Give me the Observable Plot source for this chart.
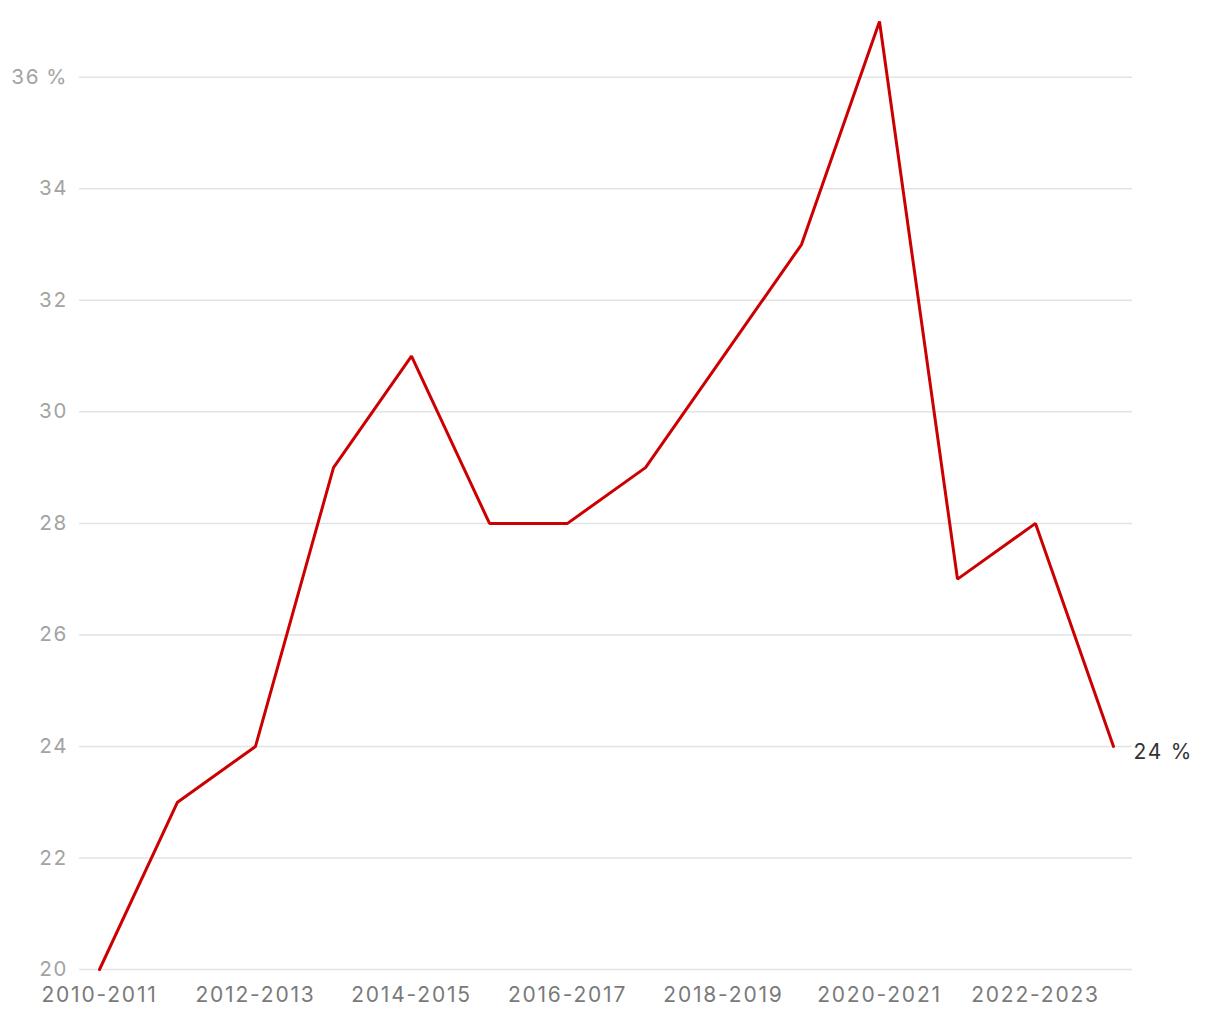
<!DOCTYPE html>
<html>
<head>
<meta charset="utf-8">
<script src="https://cdn.jsdelivr.net/npm/d3@7"></script>
<script src="https://cdn.jsdelivr.net/npm/@observablehq/plot@0.6"></script>
<style>
  html, body { margin: 0; padding: 0; background: #fff; }
  #chart svg { display: block; }
  #chart svg text { letter-spacing: 1.8px; }
  #chart svg g[aria-label="y-axis tick label"] text { letter-spacing: 1px; }
</style>
</head>
<body>
<div id="chart"></div>
<script>
const years = ["2010-2011","2011-2012","2012-2013","2013-2014","2014-2015","2015-2016","2016-2017","2017-2018","2018-2019","2019-2020","2020-2021","2021-2022","2022-2023","2023-2024"];
const values = [20, 23, 24, 29, 31, 28, 28, 29, 31, 33, 37, 27, 28, 24];
const yTicks = [20, 22, 24, 26, 28, 30, 32, 34, 36];
const xTicks = ["2010-2011","2012-2013","2014-2015","2016-2017","2018-2019","2020-2021","2022-2023"];

const data = years.map((y, i) => ({year: y, value: values[i]}));
const last = data[data.length - 1];

const chart = Plot.plot({
  width: 1220,
  height: 1020,
  marginLeft: 79,
  marginRight: 88,
  marginTop: 21,
  marginBottom: 51,
  style: {fontFamily: "Inter, sans-serif", background: "#fff", overflow: "visible"},
  x: {type: "point", domain: years, padding: 0.25, label: null},
  y: {domain: [20, 37], label: null},
  marks: [
    Plot.ruleY(yTicks, {stroke: "#e3e3e3", strokeWidth: 1.5}),
    Plot.axisY(yTicks, {
      tickSize: 0, tickPadding: 12, fontSize: 20.5, fill: "#a3a3a3", label: null,
      tickFormat: d => d === 36 ? "36 %" : String(d)
    }),
    Plot.axisX(xTicks, {
      tickSize: 0, tickPadding: 18, fontSize: 21, fill: "#7a7a7a", label: null
    }),
    Plot.line(data, {x: "year", y: "value", stroke: "#cc0000", strokeWidth: 3, strokeLinejoin: "miter", strokeLinecap: "round"}),
    Plot.text([last], {x: "year", y: "value", text: d => `${d.value} %`, dx: 20, dy: 6, textAnchor: "start", fontSize: 21, fill: "#333"})
  ]
});
document.getElementById("chart").append(chart);
</script>
</body>
</html>
